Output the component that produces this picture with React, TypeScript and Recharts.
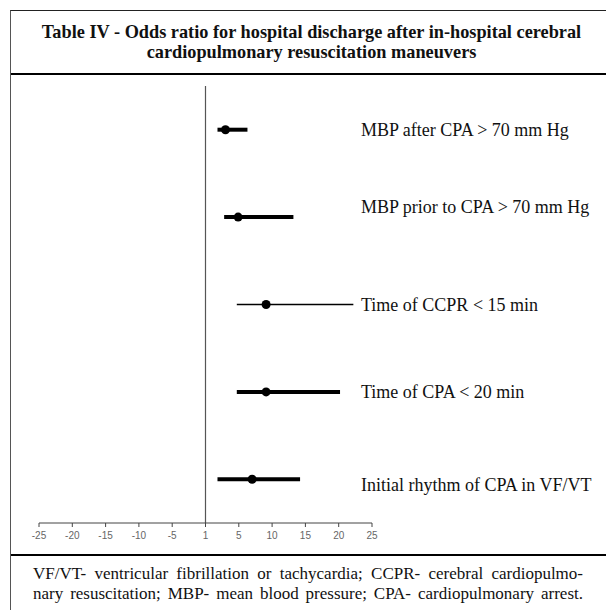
import React from 'react'
import {
  ErrorBar,
  ReferenceLine,
  Scatter,
  ScatterChart,
  XAxis,
  YAxis,
} from 'recharts'

const factors = [
  'MBP after CPA > 70 mm Hg',
  'MBP prior to CPA > 70 mm Hg',
  'Time of CCPR < 15 min',
  'Time of CPA < 20 min',
  'Initial rhythm of CPA in VF/VT',
]
const oddsRatio = [3.0, 4.9, 9.1, 9.1, 7.0]
const ciLow = [1.8, 2.8, 4.7, 4.7, 1.8]
const ciHigh = [6.3, 13.2, 22.2, 20.2, 14.2]
const xTicks = [-25, -20, -15, -10, -5, 0, 5, 10, 15, 20, 25]

// the third row is drawn with a thin line in the original
const thinRows = [2]
// small vertical nudges of the row labels, as in the scan
const labelShift = [0, -10, 0, 0, 6]

const SERIF = '"Liberation Serif", "Times New Roman", serif'
const LABEL_X = 361

const rows = factors.map((name, i) => ({
  name,
  idx: i,
  or: oddsRatio[i],
  row: factors.length - i - 0.5,
  err: [oddsRatio[i] - ciLow[i], ciHigh[i] - oddsRatio[i]],
}))

const thickData = rows.filter((r) => !thinRows.includes(r.idx))
const thinData = rows.filter((r) => thinRows.includes(r.idx))

const Dot = (props: any) => {
  const { cx, cy, payload } = props
  return (
    <g>
      <circle cx={cx} cy={cy} r={4.5} fill="#000" />
      <text
        x={LABEL_X}
        y={cy + labelShift[payload.idx]}
        dy={6}
        fontFamily={SERIF}
        fontSize={18}
        fill="#111"
      >
        {payload.name}
      </text>
    </g>
  )
}

export default function App() {
  return (
    <div
      style={{
        position: 'relative',
        width: 606,
        height: 610,
        overflow: 'hidden',
        background: '#fff',
        fontFamily: SERIF,
        color: '#111',
      }}
    >
      <style>{'body{margin:0;}'}</style>
      {/* frame */}
      <div
        style={{
          position: 'absolute',
          left: 10,
          top: 10,
          width: 620,
          height: 620,
          borderLeft: '1.5px solid #555',
          borderTop: '1px solid #222',
        }}
      />
      <div
        style={{
          position: 'absolute',
          left: 11,
          top: 22,
          width: 601,
          textAlign: 'center',
          fontWeight: 'bold',
          fontSize: 18.3,
          lineHeight: '20px',
          whiteSpace: 'nowrap',
        }}
      >
        Table IV - Odds ratio for hospital discharge after in-hospital cerebral
        <br />
        cardiopulmonary resuscitation maneuvers
      </div>
      <div style={{ position: 'absolute', left: 11, top: 73, width: 600, height: 2, background: '#000' }} />

      <div style={{ position: 'absolute', left: 0, top: 76 }}>
        <ScatterChart width={606} height={479} margin={{ top: 10, right: 234, bottom: 12, left: 39 }}>
          <XAxis
            type="number"
            dataKey="or"
            domain={[-25, 25]}
            ticks={xTicks}
            interval={0}
            height={20}
            tickFormatter={(v: number) => (v === 0 ? '1' : String(v))}
            tick={{ fontSize: 10, fill: '#666', fontFamily: 'Arial, "Liberation Sans", sans-serif' }}
            tickSize={4}
            tickMargin={5}
            axisLine={{ stroke: '#444' }}
            tickLine={{ stroke: '#444' }}
          />
          <YAxis type="number" dataKey="row" domain={[0, 5]} hide />
          <ReferenceLine x={0} stroke="#555" strokeWidth={1.2} />
          <Scatter data={thickData} shape={Dot} isAnimationActive={false}>
            <ErrorBar dataKey="err" direction="x" width={0} stroke="#000" strokeWidth={4} />
          </Scatter>
          <Scatter data={thinData} shape={Dot} isAnimationActive={false}>
            <ErrorBar dataKey="err" direction="x" width={0} stroke="#000" strokeWidth={1.5} />
          </Scatter>
        </ScatterChart>
      </div>

      <div style={{ position: 'absolute', left: 11, top: 554, width: 600, height: 2, background: '#000' }} />
      <div
        style={{
          position: 'absolute',
          left: 33,
          top: 564,
          width: 550,
          fontSize: 17,
          lineHeight: '20px',
        }}
      >
        <div style={{ textAlign: 'justify', textAlignLast: 'justify', whiteSpace: 'nowrap' }}>
          VF/VT- ventricular fibrillation or tachycardia; CCPR- cerebral cardiopulmo-
        </div>
        <div style={{ textAlign: 'justify', textAlignLast: 'justify', whiteSpace: 'nowrap' }}>
          nary resuscitation; MBP- mean blood pressure; CPA- cardiopulmonary arrest.
        </div>
      </div>
    </div>
  )
}
